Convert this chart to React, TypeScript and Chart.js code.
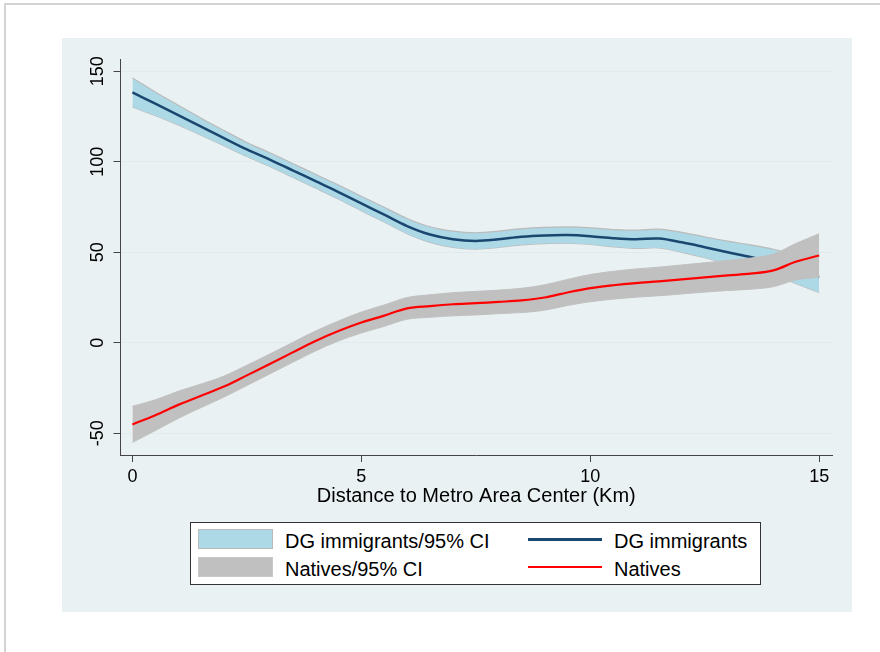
import React, { useEffect, useRef } from "react";
import { Chart, registerables } from "chart.js";

Chart.register(...registerables);

// ---- data ----
const distanceKm = [
  0, 0.5, 1, 1.5, 2, 2.5, 3, 3.5, 4, 4.5, 5, 5.5, 6, 6.5, 7, 7.5,
  8, 8.5, 9, 9.5, 10, 10.5, 11, 11.5, 12, 12.5, 13, 13.5, 14, 14.5, 15,
];

const dgImmigrants = [
  138.3, 132.1, 125.8, 119.4, 113.1, 106.8, 101.2, 95.3, 89.3, 83.3, 77.0,
  70.8, 64.5, 59.8, 57.2, 56.3, 57.2, 58.6, 59.3, 59.5, 58.9, 57.8, 57.2,
  57.6, 55.5, 52.8, 50.0, 47.4, 44.5, 40.5, 36.3,
];
const dgUpper = [
  146.3, 138.6, 131.3, 124.1, 117.3, 110.7, 105.0, 99.1, 93.1, 87.2, 81.0,
  74.9, 68.7, 64.1, 61.7, 60.8, 61.7, 63.1, 63.8, 64.0, 63.5, 62.6, 62.2,
  62.8, 61.0, 58.6, 56.2, 54.1, 51.7, 48.4, 44.8,
];
const dgLower = [
  130.3, 125.6, 120.3, 114.7, 108.9, 102.9, 97.4, 91.5, 85.5, 79.4, 73.0,
  66.7, 60.3, 55.5, 52.7, 51.8, 52.7, 54.1, 54.8, 55.0, 54.3, 53.0, 52.2,
  52.4, 50.0, 47.0, 43.8, 40.7, 37.3, 32.6, 27.8,
];

const natives = [
  -45.1, -40.0, -34.3, -29.3, -24.2, -18.0, -11.7, -5.3, 1.0, 6.5, 11.2,
  15.0, 19.0, 20.3, 21.3, 21.9, 22.6, 23.4, 25.0, 27.8, 30.2, 31.8, 33.0,
  33.9, 35.0, 36.1, 37.2, 38.2, 40.0, 44.9, 48.2,
];
const nativesUpper = [
  -35.1, -31.5, -26.8, -22.8, -18.4, -12.4, -6.2, 0.2, 6.5, 12.0, 17.0,
  20.9, 25.0, 26.5, 27.7, 28.4, 29.1, 30.1, 32.0, 35.0, 37.7, 39.5, 40.8,
  41.8, 43.0, 44.2, 45.5, 46.8, 49.0, 55.0, 60.2,
];
const nativesLower = [
  -55.1, -48.5, -41.8, -35.8, -30.0, -23.6, -17.2, -10.8, -4.5, 1.0, 5.4,
  9.1, 13.0, 14.1, 14.9, 15.4, 16.1, 16.7, 18.0, 20.6, 22.7, 24.1, 25.2,
  26.0, 27.0, 28.0, 28.9, 29.6, 31.0, 34.8, 36.2,
];

const xTicks = [0, 5, 10, 15];
const yTicks = [-50, 0, 50, 100, 150];
const xTitle = "Distance to Metro Area Center (Km)";
const legendBands = ["DG immigrants/95% CI", "Natives/95% CI"];
const legendLines = ["DG immigrants", "Natives"];

// ---- styles ----
const FONT = '"Liberation Sans", Arial, Helvetica, sans-serif';
const NAVY = "#1A476F";
const RED = "#FF0000";
const LTBLUE = "#ADD8E6";
const GRAYBAND = "#C0C0C0";
const BANDEDGE = "#BBBBBB";
const AXIS = "#444444";
const GRID = "#E1EBEF";

const pts = (arr: number[]) => distanceKm.map((x, i) => ({ x, y: arr[i] }));

const yTickLabelPlugin = {
  id: "yTickLabelsRotated",
  afterDraw(chart: any) {
    const ys = chart.scales.y;
    const ctx = chart.ctx;
    ctx.save();
    ctx.font = `18px ${FONT}`;
    ctx.fillStyle = "#000";
    ctx.textAlign = "center";
    ctx.textBaseline = "alphabetic";
    yTicks.forEach((v) => {
      const py = ys.getPixelForValue(v);
      ctx.save();
      ctx.translate(41.3, py);
      ctx.rotate(-Math.PI / 2);
      ctx.fillText(String(v), 0, 0);
      ctx.restore();
    });
    ctx.restore();
  },
};

function ChartCanvas() {
  const ref = useRef<HTMLCanvasElement | null>(null);
  useEffect(() => {
    if (!ref.current) return;
    const lineBase = {
      pointRadius: 0,
      pointHoverRadius: 0,
      tension: 0.35,
    };
    const chart = new Chart(ref.current, {
      type: "line",
      data: {
        datasets: [
          {
            ...lineBase,
            label: legendLines[1],
            data: pts(natives),
            borderColor: RED,
            borderWidth: 2.2,
            fill: false,
            order: 0,
          },
          {
            ...lineBase,
            label: "nat-upper",
            data: pts(nativesUpper),
            borderColor: GRAYBAND,
            borderWidth: 1,
            backgroundColor: GRAYBAND,
            fill: "+1",
            order: 1,
          },
          {
            ...lineBase,
            label: "nat-lower",
            data: pts(nativesLower),
            borderColor: GRAYBAND,
            borderWidth: 1,
            fill: false,
            order: 1,
          },
          {
            ...lineBase,
            label: legendLines[0],
            data: pts(dgImmigrants),
            borderColor: NAVY,
            borderWidth: 2.5,
            fill: false,
            order: 2,
          },
          {
            ...lineBase,
            label: "dg-upper",
            data: pts(dgUpper),
            borderColor: BANDEDGE,
            borderWidth: 1.2,
            backgroundColor: LTBLUE,
            fill: "+1",
            order: 3,
          },
          {
            ...lineBase,
            label: "dg-lower",
            data: pts(dgLower),
            borderColor: BANDEDGE,
            borderWidth: 1.2,
            fill: false,
            order: 3,
          },
        ],
      },
      options: {
        responsive: false,
        animation: false,
        devicePixelRatio: 1,
        layout: { padding: { top: 21, right: 20, left: 0, bottom: 0 } },
        plugins: {
          legend: { display: false },
          tooltip: { enabled: false },
          title: { display: false },
        },
        events: [],
        scales: {
          x: {
            type: "linear",
            min: -0.26,
            max: 15.28,
            afterBuildTicks: (s: any) => {
              s.ticks = xTicks.map((value) => ({ value }));
            },
            afterFit: (s: any) => {
              s.height = 53;
              s.paddingLeft = 0;
              s.paddingRight = 0;
            },
            ticks: {
              font: { family: FONT, size: 18 },
              color: "#000",
              padding: 4,
              maxRotation: 0,
              minRotation: 0,
              autoSkip: false,
              callback: (v: any) => String(v),
            },
            grid: {
              drawOnChartArea: false,
              drawTicks: true,
              tickLength: 7,
              tickColor: AXIS,
              tickWidth: 1,
            },
            border: { display: true, color: AXIS, width: 1 },
            title: {
              display: true,
              text: xTitle,
              font: { family: FONT, size: 20 },
              color: "#000",
              padding: 0,
            },
          },
          y: {
            type: "linear",
            min: -62,
            max: 156.8,
            afterBuildTicks: (s: any) => {
              s.ticks = yTicks.map((value) => ({ value }));
            },
            afterFit: (s: any) => {
              s.width = 58.5;
              s.paddingTop = 0;
              s.paddingBottom = 0;
            },
            ticks: { display: false },
            grid: {
              color: GRID,
              lineWidth: 1,
              drawTicks: true,
              tickLength: 7,
              tickColor: AXIS,
              tickWidth: 1,
            },
            border: { display: true, color: AXIS, width: 1 },
          },
        },
      },
      plugins: [yTickLabelPlugin],
    } as any);
    return () => chart.destroy();
  }, []);
  return (
    <canvas
      ref={ref}
      width={790}
      height={470}
      style={{ position: "absolute", left: 62, top: 38, width: 790, height: 470 }}
    />
  );
}

const textStyle: React.CSSProperties = {
  position: "absolute",
  fontFamily: FONT,
  fontSize: 20,
  lineHeight: "20px",
  color: "#000",
  whiteSpace: "nowrap",
};

export default function App() {
  return (
    <div
      style={{
        position: "absolute",
        left: 0,
        top: 0,
        width: 880,
        height: 652,
        overflow: "hidden",
        background: "#fff",
      }}
    >
      <div
        style={{
          position: "absolute",
          left: 4,
          top: 3,
          width: 1000,
          height: 1000,
          borderLeft: "2px solid #d4d4d4",
          borderTop: "2px solid #d4d4d4",
        }}
      />
      <div
        style={{
          position: "absolute",
          left: 62,
          top: 38,
          width: 790,
          height: 574,
          background: "#E9F1F3",
        }}
      />
      <ChartCanvas />
      {/* legend */}
      <div
        style={{
          position: "absolute",
          left: 190,
          top: 522,
          width: 571,
          height: 63,
          boxSizing: "border-box",
          border: "1px solid #333",
          background: "#fff",
        }}
      />
      <div
        style={{
          position: "absolute",
          left: 198,
          top: 529,
          width: 75,
          height: 20,
          boxSizing: "border-box",
          background: LTBLUE,
          border: `1px solid ${BANDEDGE}`,
        }}
      />
      <div
        style={{
          position: "absolute",
          left: 198,
          top: 557,
          width: 75,
          height: 20,
          boxSizing: "border-box",
          background: GRAYBAND,
          border: `1px solid #c8c8c8`,
        }}
      />
      <div style={{ ...textStyle, left: 285, top: 531 }}>{legendBands[0]}</div>
      <div style={{ ...textStyle, left: 285, top: 559 }}>{legendBands[1]}</div>
      <div
        style={{
          position: "absolute",
          left: 528,
          top: 538,
          width: 74,
          height: 2.5,
          background: NAVY,
        }}
      />
      <div
        style={{
          position: "absolute",
          left: 528,
          top: 566,
          width: 74,
          height: 2.2,
          background: RED,
        }}
      />
      <div style={{ ...textStyle, left: 614, top: 531 }}>{legendLines[0]}</div>
      <div style={{ ...textStyle, left: 614, top: 559 }}>{legendLines[1]}</div>
    </div>
  );
}
